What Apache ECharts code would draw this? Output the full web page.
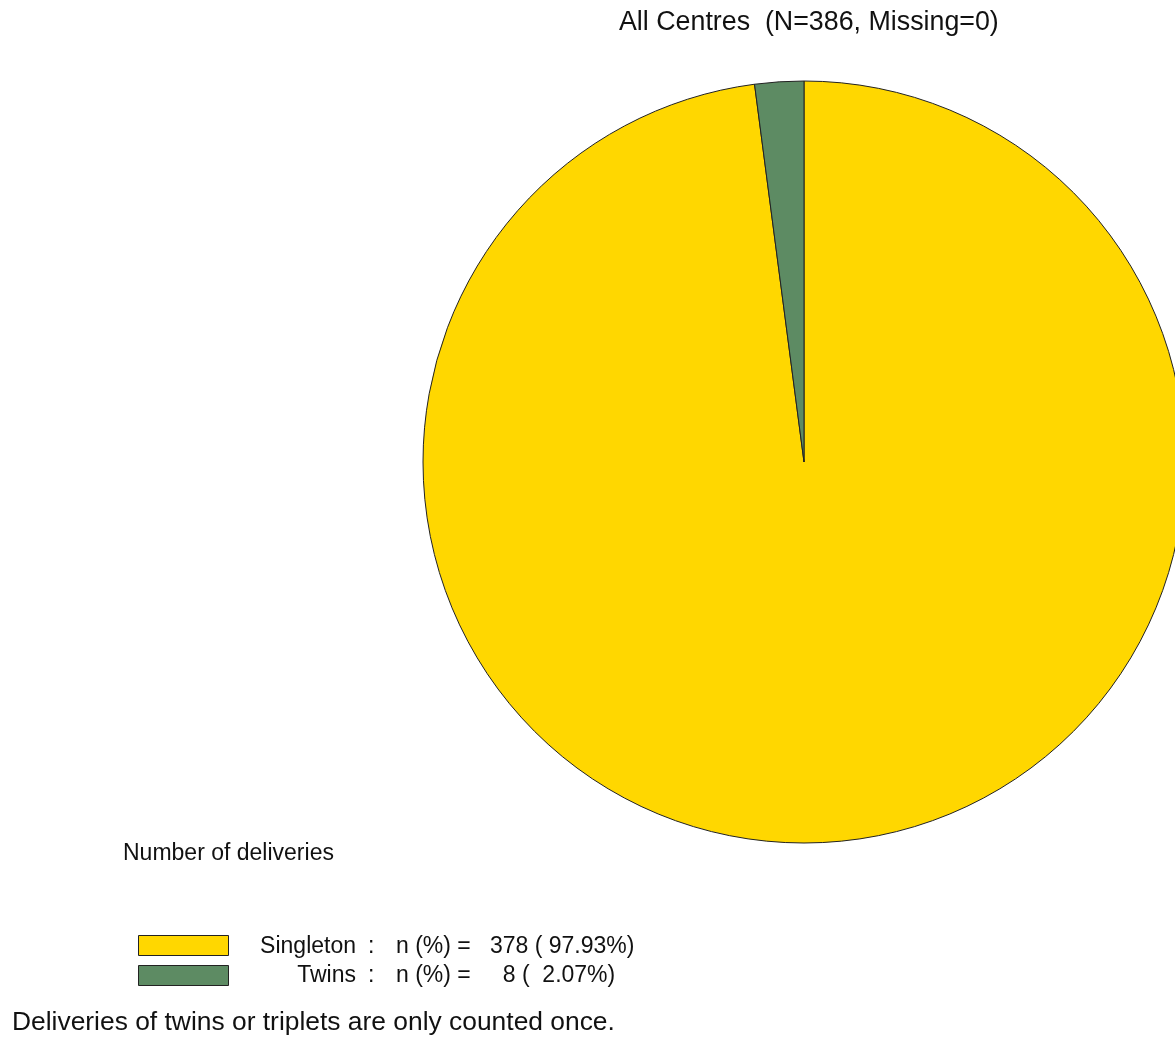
<!DOCTYPE html>
<html>
<head>
<meta charset="utf-8">
<title>Number of deliveries</title>
<script src="https://cdn.jsdelivr.net/npm/echarts@6/dist/echarts.min.js"></script>
<style>
  html, body { margin: 0; padding: 0; background: #ffffff; }
  #chart { width: 1175px; height: 1040px; }
</style>
</head>
<body>
<div id="chart"></div>
<script>
// Delivery types and counts
const categories = ['Singleton', 'Twins'];
const counts = [378, 8];
const missing = 0;
const sliceColors = ['#FFD700', '#5D8B63'];

const FONT = '"Liberation Sans", Arial, sans-serif';
const LEGEND_SIZE = 23;
const total = counts.reduce((a, b) => a + b, 0);

const pieData = categories.map((name, i) => ({
  name: name,
  value: counts[i],
  itemStyle: { color: sliceColors[i] }
}));

// Legend swatches come from the legend component; the text columns beside
// them (right-aligned name, colon, "n (%) = count ( pct%)") are laid out here.
const LEGEND_TOP = 935;
const ROW_STEP = 29;
const NAME_RIGHT = 356;
const COLON_X = 368;
const REST_X = 396;

const legendTextStyle = { fontFamily: FONT, fontSize: LEGEND_SIZE, fill: '#111111', textVerticalAlign: 'middle' };

const legendRows = [];
categories.forEach((name, i) => {
  const y = LEGEND_TOP + 12 + ROW_STEP * i;
  const n = String(counts[i]).padStart(5, ' ');
  const pct = (counts[i] / total * 100).toFixed(2).padStart(6, ' ');
  legendRows.push(
    { type: 'text', left: 0, top: 0, x: NAME_RIGHT, y: y, silent: true,
      style: Object.assign({ text: name, textAlign: 'right' }, legendTextStyle) },
    { type: 'text', x: COLON_X, y: y, silent: true,
      style: Object.assign({ text: ':', textAlign: 'left' }, legendTextStyle) },
    { type: 'text', x: REST_X, y: y, silent: true,
      style: Object.assign({ text: 'n (%) = ' + n + ' (' + pct + '%)', textAlign: 'left' }, legendTextStyle) }
  );
});
// position by x/y only
legendRows.forEach(el => { delete el.left; delete el.top; });

const chart = echarts.init(document.getElementById('chart'), null, { renderer: 'canvas' });

chart.setOption({
  animation: false,
  backgroundColor: '#ffffff',
  title: [
    {
      text: 'All Centres  (N=' + total + ', Missing=' + missing + ')',
      left: 619,
      top: 9,
      padding: 0,
      textStyle: { fontFamily: FONT, fontSize: 26.8, fontWeight: 'normal', color: '#111111' }
    },
    {
      text: 'Number of deliveries',
      left: 123,
      top: 842,
      padding: 0,
      textStyle: { fontFamily: FONT, fontSize: 23, fontWeight: 'normal', color: '#111111' }
    },
    {
      text: 'Deliveries of twins or triplets are only counted once.',
      left: 12,
      top: 1010,
      padding: 0,
      textStyle: { fontFamily: FONT, fontSize: 26.4, fontWeight: 'normal', color: '#111111' }
    }
  ],
  legend: {
    orient: 'vertical',
    left: 138,
    top: LEGEND_TOP,
    padding: 0,
    itemWidth: 90,
    itemHeight: 20,
    itemGap: ROW_STEP - 20,
    icon: 'rect',
    selectedMode: false,
    data: categories,
    itemStyle: { borderColor: '#222222', borderWidth: 1 },
    formatter: () => '',
    textStyle: { fontSize: 1, lineHeight: 1 }
  },
  graphic: legendRows,
  series: [
    {
      type: 'pie',
      center: [804, 462],
      radius: 381,
      startAngle: 90,
      clockwise: true,
      silent: true,
      label: { show: false },
      labelLine: { show: false },
      itemStyle: { borderColor: '#222222', borderWidth: 1 },
      emphasis: { disabled: true },
      data: pieData
    }
  ]
});
</script>
</body>
</html>
